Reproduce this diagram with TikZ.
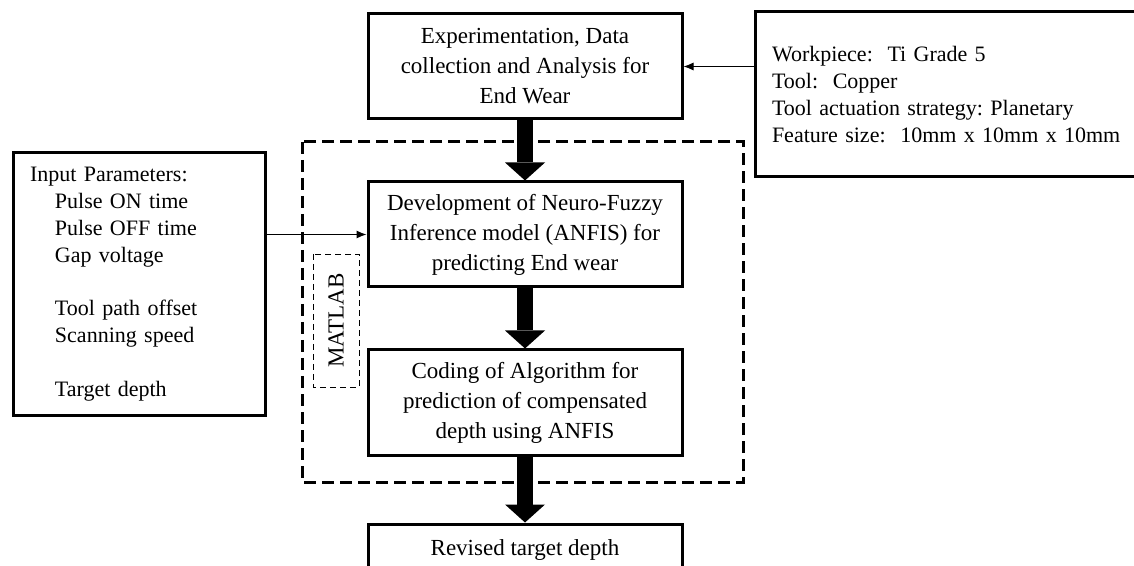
\documentclass[tikz,border=0pt]{standalone}
\usepackage{fontspec}
\setmainfont{Liberation Serif}
\usepackage{tikz}
\usetikzlibrary{arrows.meta}
\usetikzlibrary{positioning}
\frenchspacing
\newcommand{\widthstep}{157pt}
\newcommand{\heightstep}{52.5pt}
\newcommand{\indentpar}{\hspace*{12.5pt}}
\tikzset{
    common/.style={draw, rectangle, line width=1.5pt},
    stepbox/.style={common, minimum width=\widthstep, minimum height=\heightstep, align=center, inner sep=0pt, font=\fontsize{11.5pt}{15pt}\selectfont},
    sidebox/.style={common, align=left, inner xsep=8.5pt, font=\fontsize{11pt}{13.4pt}\selectfont},
    toolbox/.style={draw, densely dashed, line width=0.4pt, rotate=90, minimum width=66.5pt, minimum height=23pt, inner sep=0pt, font=\fontsize{11.5pt}{14pt}\selectfont},
    matlabframe/.style={line width=1.5pt, dash pattern=on 6pt off 3pt},
    flowarrow/.style={line width=8pt, -{Triangle[width=20pt, length=9pt, line width=0pt]}},
    feedarrow/.style={line width=0.5pt, -{Latex[length=5pt, width=4pt]}},
}
\begin{document}
\begin{tikzpicture}[x=0.5pt, y=-0.5pt, node distance=30pt]
    \useasboundingbox (0,0) rectangle (1134,566);
    % MATLAB region
    \draw[matlabframe] (302,142) rectangle (743,482);
    \node[toolbox] (matlab) at (336,320.5) {MATLAB};
    % main flow
    \node[stepbox] (experiment) at (525,66.5) {Experimentation, Data\\ collection and Analysis for\\ End Wear};
    \node[stepbox, below=of experiment] (anfis) {Development of Neuro-Fuzzy\\ Inference model (ANFIS) for\\ predicting End wear};
    \node[stepbox, below=of anfis] (coding) {Coding of Algorithm for\\ prediction of compensated\\ depth using ANFIS};
    \node[stepbox, below=33pt of coding, minimum height=26pt] (revised) {Revised target depth};
    % side boxes
    \node[sidebox, text width=109pt, minimum height=131pt] (params) at (139,284) {Input Parameters:\\
        \indentpar Pulse ON time\\
        \indentpar Pulse OFF time\\
        \indentpar Gap voltage\\[13.4pt]
        \indentpar Tool path offset\\
        \indentpar Scanning speed\\[13.4pt]
        \indentpar Target depth};
    \node[sidebox, text width=175.5pt, minimum height=82.5pt] (setup) at (947.5,94.5) {Workpiece:\ \ Ti Grade 5\\
        Tool:\ \ Copper\\
        Tool actuation strategy: Planetary\\
        Feature size:\ \ 10mm x 10mm x 10mm};
    % connectors
    \draw[flowarrow] (experiment) -- (anfis);
    \draw[flowarrow] (anfis) -- (coding);
    \draw[flowarrow] (coding) -- (revised);
    \draw[feedarrow] (setup.west |- experiment.east) -- (experiment.east);
    \draw[feedarrow] (params.east |- anfis.west) -- (anfis.west);
\end{tikzpicture}
\end{document}
